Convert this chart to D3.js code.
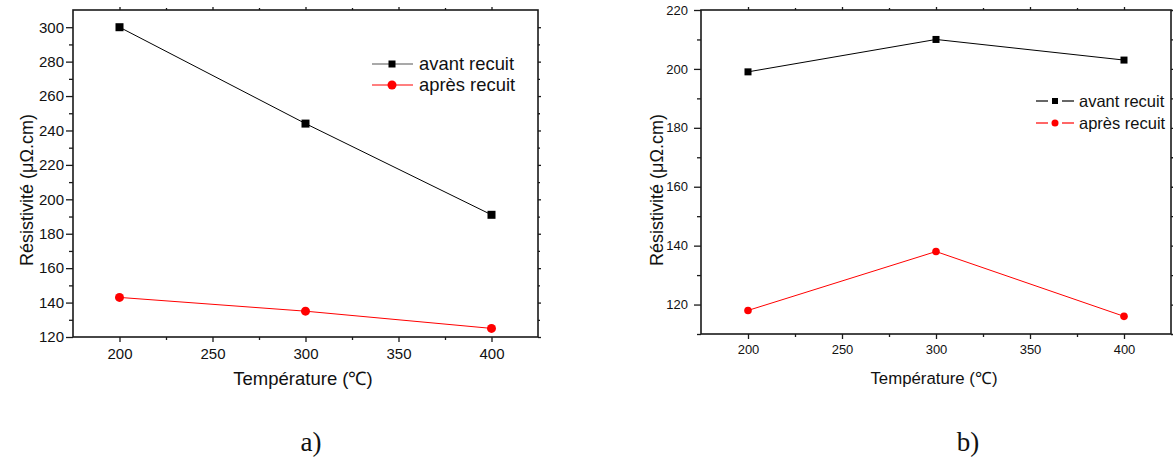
<!DOCTYPE html>
<html>
<head>
<meta charset="utf-8">
<script src="https://cdn.jsdelivr.net/npm/d3@7"></script>
<style>
  html, body { margin: 0; padding: 0; background: #fff; }
  svg { display: block; }
  text { font-family: "Liberation Sans", Arial, sans-serif; fill: #111; }
</style>
</head>
<body>
<svg id="chart" width="1173" height="459"></svg>
<script>
// ---- data ----
const temperatures = [200, 300, 400];
const seriesNames = ["avant recuit", "après recuit"];
const avantA = [300, 244, 191];
const apresA = [143, 135, 125];
const avantB = [199, 210, 203];
const apresB = [118, 138, 116];
const xTickLabels = [200, 250, 300, 350, 400];
const xMinorTicks = [225, 275, 325, 375];
const yTicksA = [120, 140, 160, 180, 200, 220, 240, 260, 280, 300];
const yMinorA = [130, 150, 170, 190, 210, 230, 250, 270, 290];
const yTicksB = [120, 140, 160, 180, 200, 220];
const yMinorB = [110, 130, 150, 170, 190, 210];
const xTitle = "Température (℃)";
const yTitle = "Résistivité (μΩ.cm)";
const captions = ["a)", "b)"];

const svg = d3.select("#chart");

function drawPanel(cfg) {
  const g = svg.append("g");
  const x = d3.scaleLinear().domain(cfg.xDomain).range([cfg.left, cfg.right]);
  const y = d3.scaleLinear().domain(cfg.yDomain).range([cfg.bottom, cfg.top]);
  const axisColor = "#1a1a1a";

  // frame
  g.append("rect")
    .attr("x", cfg.left).attr("y", cfg.top)
    .attr("width", cfg.right - cfg.left).attr("height", cfg.bottom - cfg.top)
    .attr("fill", "none").attr("stroke", axisColor).attr("stroke-width", 1.6);

  function styleAxis(sel) {
    sel.select(".domain").remove();
    sel.selectAll("line").attr("stroke", axisColor).attr("stroke-width", 1.3);
    sel.selectAll("text").style("font-size", cfg.tickFont + "px").attr("fill", "#111");
  }

  // bottom axis major + minor
  g.append("g").attr("transform", `translate(0,${cfg.bottom})`)
    .call(d3.axisBottom(x).tickValues(xTickLabels).tickSize(cfg.xMajor).tickPadding(cfg.xPad).tickFormat(d3.format("d")))
    .call(styleAxis);
  g.append("g").attr("transform", `translate(0,${cfg.bottom})`)
    .call(d3.axisBottom(x).tickValues(xMinorTicks).tickSize(cfg.xMinor).tickFormat(""))
    .call(styleAxis);
  // top axis
  g.append("g").attr("transform", `translate(0,${cfg.top})`)
    .call(d3.axisTop(x).tickValues(xTickLabels).tickSize(3).tickFormat(""))
    .call(styleAxis);
  g.append("g").attr("transform", `translate(0,${cfg.top})`)
    .call(d3.axisTop(x).tickValues(xMinorTicks).tickSize(2).tickFormat(""))
    .call(styleAxis);
  // left axis
  g.append("g").attr("transform", `translate(${cfg.left},0)`)
    .call(d3.axisLeft(y).tickValues(cfg.yTicks).tickSize(cfg.yMajor).tickPadding(cfg.yPad).tickFormat(d3.format("d")))
    .call(styleAxis);
  g.append("g").attr("transform", `translate(${cfg.left},0)`)
    .call(d3.axisLeft(y).tickValues(cfg.yMinor).tickSize(cfg.yMinorLen).tickFormat(""))
    .call(styleAxis);
  // right axis
  g.append("g").attr("transform", `translate(${cfg.right},0)`)
    .call(d3.axisRight(y).tickValues(cfg.yTicks).tickSize(3).tickFormat(""))
    .call(styleAxis);
  g.append("g").attr("transform", `translate(${cfg.right},0)`)
    .call(d3.axisRight(y).tickValues(cfg.yMinor).tickSize(2).tickFormat(""))
    .call(styleAxis);

  // series
  const colors = ["#000", "#ff0000"];
  const line = d3.line().x(d => x(d[0])).y(d => y(d[1]));
  cfg.series.forEach((vals, i) => {
    const pts = temperatures.map((t, j) => [t, vals[j]]);
    g.append("path").datum(pts).attr("d", line)
      .attr("fill", "none").attr("stroke", colors[i]).attr("stroke-width", 1);
    if (i === 0) {
      g.selectAll(null).data(pts).enter().append("rect")
        .attr("x", d => x(d[0]) - cfg.sq / 2).attr("y", d => y(d[1]) - cfg.sq / 2)
        .attr("width", cfg.sq).attr("height", cfg.sq).attr("fill", colors[i]);
    } else {
      g.selectAll(null).data(pts).enter().append("circle")
        .attr("cx", d => x(d[0])).attr("cy", d => y(d[1]))
        .attr("r", cfg.cr).attr("fill", colors[i]);
    }
  });

  // legend
  seriesNames.forEach((name, i) => {
    const ly = cfg.legY + i * cfg.legGap;
    const lg = g.append("g");
    const lineColor = i === 0 ? (cfg.legGapMarker ? "#000" : "#555") : "#ff0000";
    if (cfg.legGapMarker) {
      lg.append("line").attr("x1", cfg.legX1).attr("x2", cfg.legMX - 7).attr("y1", ly).attr("y2", ly)
        .attr("stroke", lineColor).attr("stroke-width", 1.2);
      lg.append("line").attr("x1", cfg.legMX + 7).attr("x2", cfg.legX2).attr("y1", ly).attr("y2", ly)
        .attr("stroke", lineColor).attr("stroke-width", 1.2);
    } else {
      lg.append("line").attr("x1", cfg.legX1).attr("x2", cfg.legX2).attr("y1", ly).attr("y2", ly)
        .attr("stroke", lineColor).attr("stroke-width", 1.2);
    }
    if (i === 0) {
      lg.append("rect").attr("x", cfg.legMX - cfg.legSq / 2).attr("y", ly - cfg.legSq / 2)
        .attr("width", cfg.legSq).attr("height", cfg.legSq).attr("fill", "#000");
    } else {
      lg.append("circle").attr("cx", cfg.legMX).attr("cy", ly).attr("r", cfg.legCr).attr("fill", "#ff0000");
    }
    lg.append("text").attr("x", cfg.legTX).attr("y", ly).attr("dy", "0.35em")
      .style("font-size", cfg.legFont + "px").text(name);
  });

  // titles
  g.append("text").attr("x", cfg.xTitleX).attr("y", cfg.xTitleY)
    .attr("text-anchor", "middle").attr("dy", "0.35em")
    .style("font-size", cfg.xTitleFont + "px").text(xTitle);
  g.append("text")
    .attr("transform", `translate(${cfg.yTitleX},${cfg.yTitleY}) rotate(-90)`)
    .attr("text-anchor", "middle")
    .style("font-size", cfg.yTitleFont + "px").text(yTitle);

  // caption
  g.append("text").attr("x", cfg.capX).attr("y", 451).attr("text-anchor", "middle")
    .style("font-family", "'Liberation Serif', 'Times New Roman', serif")
    .style("font-size", "27px").attr("fill", "#000").text(cfg.caption);
}

drawPanel({
  left: 73, right: 538, top: 10, bottom: 337,
  xDomain: [175, 425], yDomain: [120, 310],
  yTicks: yTicksA, yMinor: yMinorA,
  series: [avantA, apresA],
  tickFont: 15, xMajor: 5, xMinor: 3, xPad: 6, yMajor: 7, yMinorLen: 4, yPad: 2,
  sq: 8, cr: 4.5,
  legX1: 372, legX2: 413, legMX: 392, legTX: 419, legY: 64, legGap: 21,
  legSq: 7, legCr: 4.5, legFont: 18.4, legGapMarker: false,
  xTitleX: 303, xTitleY: 379, xTitleFont: 18.5,
  yTitleX: 33, yTitleY: 190, yTitleFont: 18,
  capX: 311, caption: captions[0]
});

drawPanel({
  left: 701, right: 1171, top: 10, bottom: 334,
  xDomain: [175, 425], yDomain: [110, 220],
  yTicks: yTicksB, yMinor: yMinorB,
  series: [avantB, apresB],
  tickFont: 13, xMajor: 5, xMinor: 3, xPad: 6, yMajor: 7, yMinorLen: 4, yPad: 6,
  sq: 7, cr: 3.8,
  legX1: 1036, legX2: 1074, legMX: 1055, legTX: 1079, legY: 101, legGap: 22,
  legSq: 6, legCr: 3.5, legFont: 16.5, legGapMarker: true,
  xTitleX: 934, xTitleY: 378, xTitleFont: 16.8,
  yTitleX: 663, yTitleY: 190, yTitleFont: 18,
  capX: 968, caption: captions[1]
});
</script>
</body>
</html>
